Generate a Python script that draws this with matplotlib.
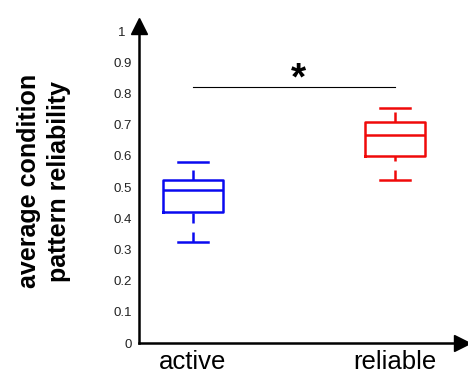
import matplotlib
matplotlib.use('Agg')
import matplotlib.pyplot as plt
import matplotlib.transforms as mtransforms

plt.rcParams['font.family'] = ['Liberation Sans', 'DejaVu Sans']

# valores
grupos = ['active', 'reliable']
cores = ['#0a0af0', '#f00a0a']
minimo = [0.324, 0.522]
q1 = [0.421, 0.599]
mediana = [0.490, 0.667]
q3 = [0.522, 0.708]
maximo = [0.580, 0.753]
y_ticks = [0, 0.1, 0.2, 0.3, 0.4, 0.5, 0.6, 0.7, 0.8, 0.9, 1]
nivel_sig = 0.821
texto_sig = '*'

fig = plt.figure(figsize=(4.68, 3.74), dpi=100)
ax = fig.add_axes([139 / 468, 31 / 374, 323 / 468, 317.5 / 374])

stats = []
for i, nome in enumerate(grupos):
    stats.append({'label': nome, 'whislo': minimo[i], 'q1': q1[i], 'med': mediana[i],
                  'q3': q3[i], 'whishi': maximo[i], 'fliers': []})

bp = ax.bxp(stats, positions=[1, 2], widths=0.30, capwidths=0.15,
            showfliers=False, patch_artist=False)

for i, cor in enumerate(cores):
    bp['boxes'][i].set(color=cor, linewidth=1.8)
    bp['medians'][i].set(color=cor, linewidth=1.8)
    for w in bp['whiskers'][2 * i:2 * i + 2]:
        w.set(color=cor, linewidth=1.8, linestyle=(0, (4.0, 3.6)))
    for c in bp['caps'][2 * i:2 * i + 2]:
        c.set(color=cor, linewidth=1.8)
    # o tracejado de baixo começa na ponta do bigode
    xs, ys = bp['whiskers'][2 * i].get_data()
    bp['whiskers'][2 * i].set_data(xs[::-1], ys[::-1])

# linha de significância
ax.plot([1, 2], [nivel_sig, nivel_sig], color='black', linewidth=0.8)
ax.text(1.52, nivel_sig - 0.033, texto_sig, ha='center', va='bottom',
        fontsize=28, fontweight='bold')

ax.set_xlim(0.733, 2.332)
ax.set_ylim(0, 1.018)
ax.set_yticks(y_ticks)
ax.set_yticklabels([f'{v:g}' for v in y_ticks], fontsize=9.5, color='#222222')
ax.set_xticks([1, 2])
ax.set_xticklabels(grupos, fontsize=18.5)
ax.tick_params(axis='y', length=0, pad=5)
ax.tick_params(axis='x', length=0, pad=5)

# o "1" fica à esquerda da seta
rot_1 = ax.get_yticklabels()[-1]
rot_1.set_transform(rot_1.get_transform() +
                    mtransforms.ScaledTranslation(-7 / 100, 0, fig.dpi_scale_trans))

for lado in ['top', 'right']:
    ax.spines[lado].set_visible(False)
for lado in ['left', 'bottom']:
    ax.spines[lado].set_linewidth(1.8)

# setas dos eixos
ax.plot(1, 0, '>k', markersize=11, transform=ax.transAxes, clip_on=False)
ax.plot(0, 1, '^k', markersize=11, transform=ax.transAxes, clip_on=False)

fig.text(44 / 468, 1 - 181 / 374, 'average condition\npattern reliability',
         rotation=90, ha='center', va='center', multialignment='center',
         fontsize=18, fontweight='bold', linespacing=1.3)

fig.savefig('out.png', dpi=100)
plt.close(fig)
